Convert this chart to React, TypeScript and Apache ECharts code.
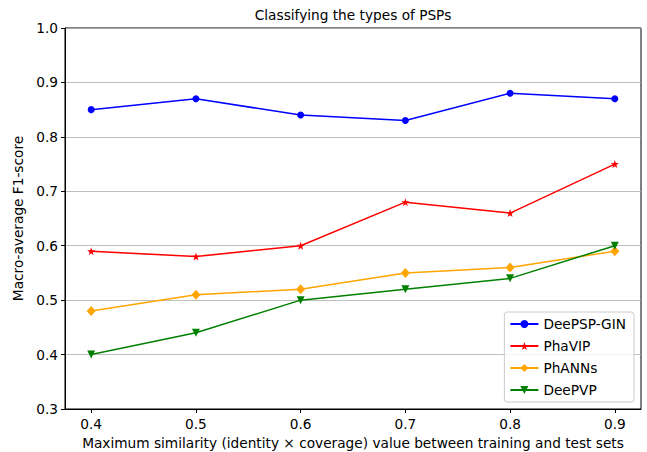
import React, { useEffect, useRef } from "react";
import * as echarts from "echarts";

const xValues = [0.4, 0.5, 0.6, 0.7, 0.8, 0.9];
const deepspGin = [0.85, 0.87, 0.84, 0.83, 0.88, 0.87];
const phaVIP = [0.59, 0.58, 0.6, 0.68, 0.66, 0.75];
const phANNs = [0.48, 0.51, 0.52, 0.55, 0.56, 0.59];
const deePVP = [0.4, 0.44, 0.5, 0.52, 0.54, 0.6];
const yTicks = [0.3, 0.4, 0.5, 0.6, 0.7, 0.8, 0.9, 1.0];

const STAR =
  "path://M0,-10 L2.35,-3.24 L9.51,-3.09 L3.8,1.24 L5.88,8.09 L0,4 L-5.88,8.09 L-3.8,1.24 L-9.51,-3.09 L-2.35,-3.24 Z";

const font = "DejaVu Sans";
const FS = 13.7;

export default function App() {
  const ref = useRef<HTMLDivElement>(null);
  useEffect(() => {
    const chart = echarts.init(ref.current!, null, { renderer: "svg" });
    const mk = (ys: number[]) => xValues.map((x, i) => [x, ys[i]]);
    chart.setOption({
      animation: false,
      textStyle: { fontFamily: font },
      title: {
        text: "Classifying the types of PSPs",
        left: 353,
        top: 8,
        textAlign: "center",
        padding: 0,
        textStyle: { fontFamily: font, fontSize: FS, fontWeight: "normal", color: "#000" },
      },
      grid: {
        left: 65,
        right: 6,
        top: 28,
        bottom: 43,
        outerBoundsMode: "none",
        containLabel: false,
        show: true,
        borderColor: "#000",
        borderWidth: 1,
        backgroundColor: "transparent",
      },
      legend: {
        orient: "vertical",
        right: 13,
        bottom: 50,
        itemWidth: 28,
        itemHeight: 10,
        itemGap: 8,
        padding: [5, 8, 5, 5],
        backgroundColor: "rgba(255,255,255,0.8)",
        borderColor: "#ccc",
        borderWidth: 1,
        borderRadius: 3,
        textStyle: { fontFamily: font, fontSize: FS, color: "#000" },
        data: ["DeePSP-GIN", "PhaVIP", "PhANNs", "DeePVP"],
      },
      xAxis: {
        type: "value",
        min: 0.375,
        max: 0.925,
        name: "Maximum similarity (identity \u00d7 coverage) value between training and test sets",
        nameLocation: "middle",
        nameGap: 26,
        nameTextStyle: { fontFamily: font, fontSize: FS, color: "#000" },
        axisLine: { lineStyle: { color: "#000" } },
        axisTick: { show: true, inside: false, length: 4, customValues: xValues, lineStyle: { color: "#000" } },
        axisLabel: {
          customValues: xValues,
          formatter: (v: number) => v.toFixed(1),
          fontFamily: font,
          fontSize: FS,
          color: "#000",
          margin: 8,
        },
        splitLine: { show: false },
      },
      yAxis: {
        type: "value",
        min: 0.3,
        max: 1.0,
        interval: 0.1,
        name: "Macro-average F1-score",
        nameLocation: "middle",
        nameGap: 36,
        nameTextStyle: { fontFamily: font, fontSize: FS, color: "#000" },
        axisLine: { show: true, lineStyle: { color: "#000" } },
        axisTick: { show: true, length: 4, lineStyle: { color: "#000" } },
        axisLabel: {
          customValues: yTicks,
          formatter: (v: number) => v.toFixed(1),
          fontFamily: font,
          fontSize: FS,
          color: "#000",
          margin: 7,
        },
        splitLine: { show: true, lineStyle: { color: "#b0b0b0", width: 0.8 } },
      },
      series: [
        {
          name: "DeePSP-GIN",
          type: "line",
          data: mk(deepspGin),
          color: "#0000ff",
          symbol: "circle",
          symbolSize: 7,
          lineStyle: { width: 1.5 },
        },
        {
          name: "PhaVIP",
          type: "line",
          data: mk(phaVIP),
          color: "#ff0000",
          symbol: STAR,
          symbolSize: 8,
          lineStyle: { width: 1.5 },
        },
        {
          name: "PhANNs",
          type: "line",
          data: mk(phANNs),
          color: "#ffa500",
          symbol: "diamond",
          symbolSize: [9, 10],
          lineStyle: { width: 1.5 },
        },
        {
          name: "DeePVP",
          type: "line",
          data: mk(deePVP),
          color: "#008000",
          symbol: "triangle",
          symbolRotate: 180,
          symbolSize: 8,
          lineStyle: { width: 1.5 },
        },
      ],
    });
    return () => chart.dispose();
  }, []);
  return <div ref={ref} style={{ width: 647, height: 452, position: "absolute", left: 0, top: 0 }} />;
}
